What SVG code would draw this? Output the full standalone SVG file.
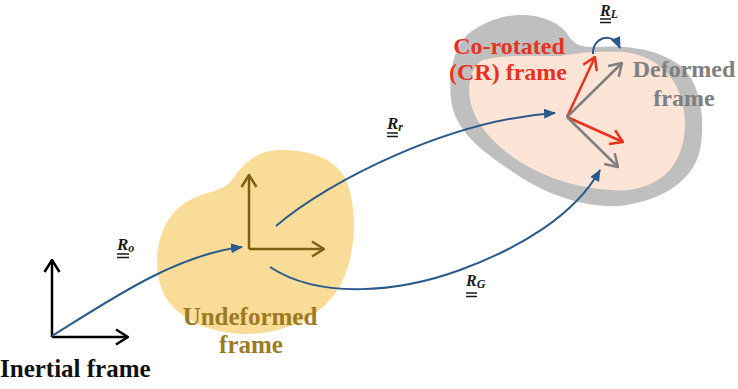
<svg xmlns="http://www.w3.org/2000/svg" width="738" height="389" viewBox="0 0 738 389" font-family="Liberation Serif, Times New Roman, Times, serif" font-weight="bold">
<style>
.lab{font-style:italic;fill:#1a1a1a}
.ul{stroke:#1a1a1a;stroke-width:1.3}
.conn{fill:none;stroke:#2B5A8C;stroke-width:2}
</style>
<defs>
<marker id="ab" viewBox="0 0 12 10" refX="11" refY="5" markerWidth="12" markerHeight="10" markerUnits="userSpaceOnUse" orient="auto"><path d="M0,0 L12,5 L0,10 Z" fill="#2B5A8C"/></marker>
<marker id="ck" viewBox="0 0 14 18" refX="13" refY="9" markerWidth="14" markerHeight="18" markerUnits="userSpaceOnUse" orient="auto"><path d="M1,1.5 L13,9 L1,16.5" fill="none" stroke="#000" stroke-width="2.5"/></marker>
<marker id="cy" viewBox="0 0 14 18" refX="13" refY="9" markerWidth="14" markerHeight="18" markerUnits="userSpaceOnUse" orient="auto"><path d="M1,1.5 L13,9 L1,16.5" fill="none" stroke="#7F6010" stroke-width="2.5"/></marker>
<marker id="cr" viewBox="0 0 14 18" refX="13" refY="9" markerWidth="14" markerHeight="18" markerUnits="userSpaceOnUse" orient="auto"><path d="M1,1.5 L13,9 L1,16.5" fill="none" stroke="#E8321E" stroke-width="2.5"/></marker>
<marker id="cg" viewBox="0 0 14 18" refX="13" refY="9" markerWidth="14" markerHeight="18" markerUnits="userSpaceOnUse" orient="auto"><path d="M1,1.5 L13,9 L1,16.5" fill="none" stroke="#7F7F7F" stroke-width="2.5"/></marker>
</defs>
<rect width="738" height="389" fill="#fff"/>
<g id="undeformed">
<path d="M232,180 C245,160 260,150 282,150 C312,150 340,160 348,185 C358,215 355,255 342,282 C328,310 300,328 262,333 C220,338 175,322 162,290 C150,258 160,215 190,200 C207,191 222,192 232,180 Z" fill="#F9DC98"/>
<path d="M249,249 V175" stroke="#7F6010" stroke-width="2.5" fill="none" marker-end="url(#cy)"/>
<path d="M249,249 H324" stroke="#7F6010" stroke-width="2.5" fill="none" marker-end="url(#cy)"/>
<text x="250" y="325" font-size="25" fill="#9C7A22" text-anchor="middle">Undeformed</text>
<text x="251" y="353" font-size="25" fill="#9C7A22" text-anchor="middle">frame</text>
</g>
<g id="deformed">
<path d="M517,15 C540,14 558,22 566,32 C572,42 578,48 595,47 C625,45 660,48 683,68 C703,88 705,125 700,150 C693,180 665,200 620,206 C585,208 545,195 510,170 C480,150 455,130 451,100 C448,70 455,40 475,29 C488,21 502,16 517,15 Z" fill="#BFBFBF"/>
<path d="M483,60 C505,54 540,56 560,56 C580,52 600,51 625,52 C655,56 675,75 682,100 C688,125 686,155 665,175 C648,188 630,192 610,190 C580,188 550,180 520,162 C495,145 475,125 470,100 C467,82 472,66 483,60 Z" fill="#FCE4D6"/>
<path d="M567,117 L595,57" stroke="#E8321E" stroke-width="2.5" fill="none" marker-end="url(#cr)"/>
<path d="M567,117 L623,142" stroke="#E8321E" stroke-width="2.5" fill="none" marker-end="url(#cr)"/>
<path d="M567,117 L622,63" stroke="#7F7F7F" stroke-width="2.5" fill="none" marker-end="url(#cg)"/>
<path d="M567,117 L618,167" stroke="#7F7F7F" stroke-width="2.5" fill="none" marker-end="url(#cg)"/>
<text x="509" y="54" font-size="24" fill="#E8321E" text-anchor="middle">Co-rotated</text>
<text x="508" y="80" font-size="24" fill="#E8321E" text-anchor="middle">(CR) frame</text>
<text x="684" y="77" font-size="24" fill="#7F7F7F" text-anchor="middle">Deformed</text>
<text x="684" y="106" font-size="24" fill="#7F7F7F" text-anchor="middle">frame</text>
</g>
<g id="inertial">
<path d="M52,337 V260" stroke="#000" stroke-width="2.5" fill="none" marker-end="url(#ck)"/>
<path d="M52,337 H128" stroke="#000" stroke-width="2.5" fill="none" marker-end="url(#ck)"/>
<text x="0" y="377" font-size="25" fill="#111">Inertial frame</text>
</g>
<g id="connectors">
<path class="conn" d="M52,336 C110,300 175,255 242,247" marker-end="url(#ab)"/>
<path class="conn" d="M276,226 C330,180 450,120 555,113" marker-end="url(#ab)"/>
<path class="conn" d="M270,267 C320,300 400,292 460,270 C520,248 575,215 600,170" marker-end="url(#ab)"/>
<path class="conn" d="M593,54 C592,38 612,30 620,48" marker-end="url(#ab)"/>
</g>
<g id="labels">
<text class="lab" x="117" y="250" font-size="17">R<tspan font-size="12" dy="2">o</tspan></text>
<path class="ul" d="M117,254 H129 M117,257.5 H129"/>
<text class="lab" x="387" y="129" font-size="17">R<tspan font-size="12" dy="2">r</tspan></text>
<path class="ul" d="M387,133 H398 M387,136.5 H398"/>
<text class="lab" x="466" y="286" font-size="16">R<tspan font-size="12" dy="2">G</tspan></text>
<path class="ul" d="M466,293 H477 M466,296.5 H477"/>
<text class="lab" x="600" y="16" font-size="16">R<tspan font-size="12" dy="2">L</tspan></text>
<path class="ul" d="M600,19 H611 M600,22.5 H611"/>
</g>
</svg>
